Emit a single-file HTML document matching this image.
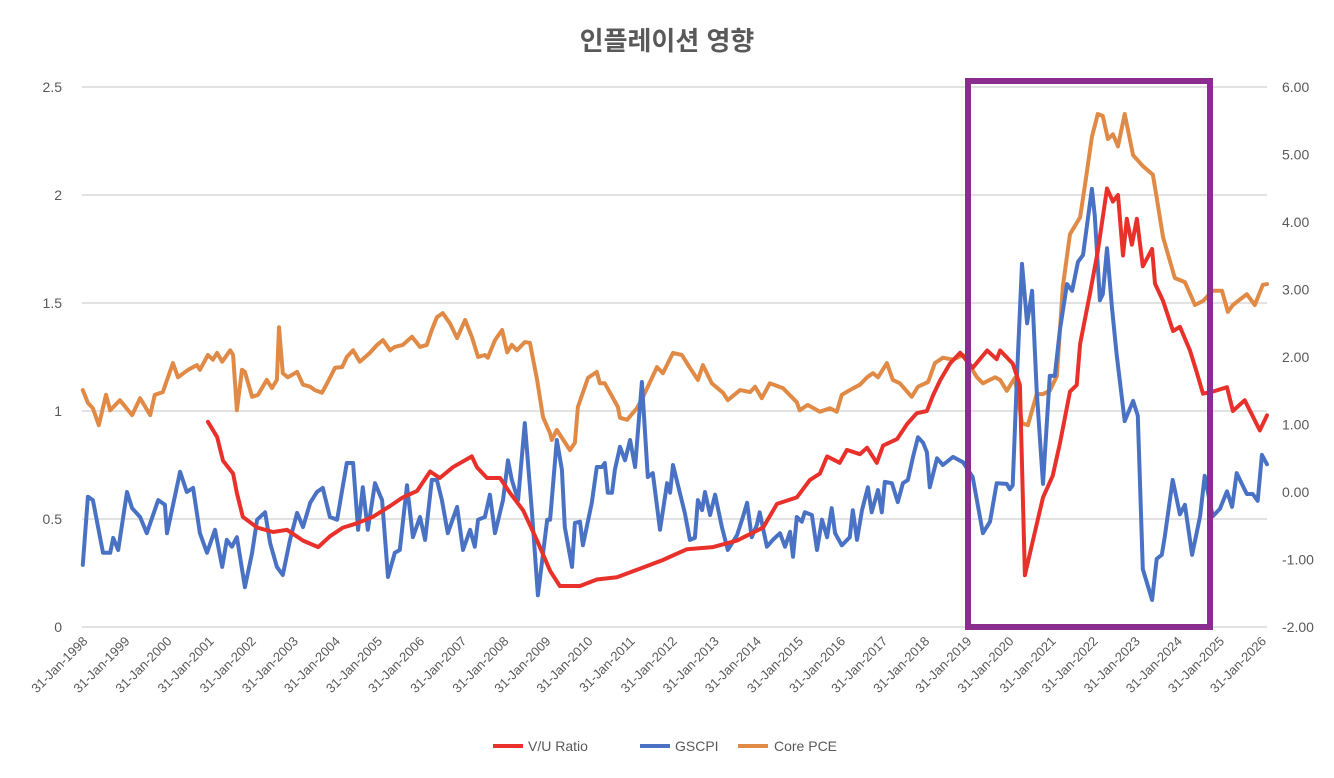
<!DOCTYPE html>
<html><head><meta charset="utf-8"><style>
html,body{margin:0;padding:0;background:#fff;}
svg{display:block;font-family:"Liberation Sans","Noto Sans CJK KR",sans-serif;}
</style></head><body>
<svg id="chart" width="1334" height="778" viewBox="0 0 1334 778" xmlns="http://www.w3.org/2000/svg">
<text x="667" y="50" text-anchor="middle" font-size="26" font-weight="bold" fill="#595959" font-family="'Liberation Sans','Noto Sans CJK KR',sans-serif">인플레이션 영향</text>
<g id="grid"></g>
<g id="yl"></g>
<g id="yr"></g>
<g id="xa"></g>
<g id="series"></g>
<rect x="968" y="81" width="242" height="546" fill="none" stroke="#8a2d8f" stroke-width="6"/>
<g>
<g><line x1="493" y1="746" x2="523" y2="746" stroke="#e8312a" stroke-width="4"/><text x="528" y="751" font-size="14" fill="#595959">V/U Ratio</text></g>
<g><line x1="640" y1="746" x2="670" y2="746" stroke="#4a72c4" stroke-width="4"/><text x="675" y="751" font-size="14" fill="#595959">GSCPI</text></g>
<g><line x1="738" y1="746" x2="768" y2="746" stroke="#e08a45" stroke-width="4"/><text x="774" y="751" font-size="14" fill="#595959">Core PCE</text></g>
</g>
</svg>
<script>
const leftTicks=[0,0.5,1,1.5,2,2.5];
const leftTickLabels=["0","0.5","1","1.5","2","2.5"];
const rightTicks=[-2,-1,0,1,2,3,4,5,6];
const xTickYears=[1998,1999,2000,2001,2002,2003,2004,2005,2006,2007,2008,2009,2010,2011,2012,2013,2014,2015,2016,2017,2018,2019,2020,2021,2022,2023,2024,2025,2026];

const vuDates=[2000.99,2001.21,2001.35,2001.59,2001.68,2001.82,2002.16,2002.54,2002.87,2003.25,2003.61,2003.89,2004.20,2004.53,2004.91,2005.32,2005.62,2005.96,2006.27,2006.50,2006.81,2007.26,2007.38,2007.62,2007.93,2008.17,2008.48,2008.81,2009.12,2009.35,2009.83,2010.23,2010.71,2011.25,2011.80,2012.37,2012.99,2013.56,2014.18,2014.51,2014.98,2015.29,2015.53,2015.70,2016.00,2016.17,2016.48,2016.65,2016.88,2017.03,2017.36,2017.60,2017.83,2018.07,2018.21,2018.38,2018.62,2018.86,2019.16,2019.50,2019.73,2019.81,2020.11,2020.28,2020.40,2020.59,2020.83,2021.06,2021.23,2021.47,2021.63,2021.71,2021.94,2022.13,2022.35,2022.49,2022.61,2022.73,2022.82,2022.94,2023.06,2023.20,2023.42,2023.49,2023.68,2023.92,2024.08,2024.32,2024.48,2024.63,2024.86,2025.20,2025.34,2025.62,2025.98,2026.15];
const vuValues=[0.95,0.88,0.77,0.71,0.62,0.51,0.46,0.44,0.45,0.40,0.37,0.42,0.46,0.48,0.51,0.56,0.60,0.63,0.72,0.69,0.74,0.79,0.74,0.69,0.69,0.62,0.54,0.40,0.26,0.19,0.19,0.22,0.23,0.27,0.31,0.36,0.37,0.40,0.46,0.57,0.60,0.68,0.71,0.79,0.76,0.82,0.80,0.83,0.76,0.84,0.87,0.94,0.99,1.00,1.07,1.14,1.22,1.27,1.20,1.28,1.24,1.28,1.22,1.12,0.24,0.40,0.60,0.70,0.85,1.09,1.12,1.31,1.54,1.74,2.03,1.97,2.00,1.72,1.89,1.77,1.89,1.67,1.75,1.59,1.51,1.37,1.39,1.28,1.18,1.08,1.09,1.11,1.00,1.05,0.91,0.98];

const gsDates=[1998.02,1998.14,1998.26,1998.50,1998.67,1998.74,1998.86,1999.07,1999.19,1999.38,1999.54,1999.81,1999.97,2000.02,2000.33,2000.49,2000.64,2000.80,2000.97,2001.16,2001.33,2001.44,2001.56,2001.68,2001.87,2002.04,2002.16,2002.35,2002.47,2002.63,2002.77,2002.94,2003.11,2003.25,2003.42,2003.58,2003.72,2003.89,2004.06,2004.29,2004.44,2004.56,2004.67,2004.79,2004.96,2005.13,2005.27,2005.43,2005.55,2005.72,2005.86,2006.03,2006.15,2006.31,2006.43,2006.55,2006.69,2006.91,2007.05,2007.22,2007.33,2007.41,2007.57,2007.69,2007.81,2008.00,2008.12,2008.21,2008.36,2008.52,2008.69,2008.83,2009.05,2009.12,2009.28,2009.40,2009.47,2009.64,2009.71,2009.83,2009.90,2010.11,2010.23,2010.35,2010.42,2010.49,2010.59,2010.66,2010.78,2010.90,2011.02,2011.14,2011.30,2011.44,2011.56,2011.73,2011.90,2011.97,2012.04,2012.32,2012.44,2012.56,2012.63,2012.73,2012.80,2012.92,2013.04,2013.20,2013.34,2013.56,2013.70,2013.80,2013.91,2014.03,2014.10,2014.27,2014.41,2014.58,2014.70,2014.82,2014.89,2014.98,2015.10,2015.17,2015.34,2015.46,2015.58,2015.70,2015.81,2015.89,2016.05,2016.24,2016.31,2016.41,2016.53,2016.67,2016.76,2016.91,2017.00,2017.07,2017.24,2017.38,2017.50,2017.62,2017.74,2017.86,2017.98,2018.07,2018.14,2018.31,2018.45,2018.69,2018.93,2019.16,2019.40,2019.57,2019.73,2019.97,2020.04,2020.11,2020.21,2020.33,2020.45,2020.57,2020.68,2020.83,2020.99,2021.11,2021.23,2021.40,2021.52,2021.66,2021.78,2021.99,2022.06,2022.18,2022.25,2022.35,2022.47,2022.58,2022.77,2022.97,2023.08,2023.20,2023.42,2023.53,2023.65,2023.72,2023.91,2024.08,2024.20,2024.37,2024.56,2024.67,2024.86,2025.03,2025.20,2025.32,2025.43,2025.67,2025.81,2025.93,2026.03,2026.15];
const gsValues=[-1.08,-0.07,-0.12,-0.90,-0.90,-0.68,-0.86,0.0,-0.24,-0.37,-0.61,-0.12,-0.19,-0.61,0.30,0.0,0.06,-0.61,-0.90,-0.56,-1.11,-0.71,-0.81,-0.67,-1.41,-0.90,-0.41,-0.30,-0.76,-1.11,-1.23,-0.71,-0.31,-0.52,-0.16,0.0,0.06,-0.37,-0.41,0.43,0.43,-0.56,0.07,-0.56,0.13,-0.12,-1.26,-0.90,-0.86,0.10,-0.67,-0.37,-0.71,0.18,0.18,-0.12,-0.61,-0.22,-0.86,-0.56,-0.81,-0.41,-0.37,-0.04,-0.61,-0.12,0.47,0.18,-0.12,1.02,-0.31,-1.53,-0.41,-0.41,0.77,0.33,-0.52,-1.11,-0.46,-0.44,-0.79,-0.16,0.37,0.37,0.43,-0.01,-0.01,0.33,0.67,0.47,0.77,0.37,1.63,0.22,0.28,-0.56,0.13,-0.01,0.40,-0.31,-0.71,-0.68,-0.12,-0.27,0.0,-0.34,-0.04,-0.52,-0.86,-0.64,-0.37,-0.16,-0.67,-0.49,-0.30,-0.81,-0.71,-0.61,-0.81,-0.59,-0.96,-0.37,-0.44,-0.30,-0.34,-0.86,-0.41,-0.67,-0.24,-0.61,-0.79,-0.67,-0.27,-0.71,-0.27,0.07,-0.30,0.03,-0.30,0.15,0.13,-0.15,0.13,0.18,0.52,0.81,0.73,0.59,0.07,0.50,0.40,0.52,0.44,0.22,-0.61,-0.44,0.13,0.12,0.04,0.10,1.72,3.38,2.50,2.98,1.50,0.12,1.72,1.72,2.40,3.08,2.98,3.41,3.51,4.49,4.09,2.84,2.93,3.61,2.71,2.03,1.05,1.35,1.13,-1.14,-1.60,-0.99,-0.93,-0.67,0.18,-0.33,-0.19,-0.93,-0.36,0.24,-0.36,-0.25,0.01,-0.22,0.28,-0.03,-0.03,-0.13,0.55,0.41];

const pceDates=[1998.02,1998.14,1998.26,1998.40,1998.57,1998.67,1998.90,1999.19,1999.38,1999.62,1999.73,1999.92,2000.16,2000.28,2000.52,2000.73,2000.80,2000.99,2001.11,2001.21,2001.33,2001.52,2001.59,2001.68,2001.80,2001.87,2002.04,2002.18,2002.39,2002.51,2002.63,2002.68,2002.77,2002.89,2003.11,2003.25,2003.42,2003.53,2003.70,2003.84,2004.01,2004.18,2004.29,2004.44,2004.60,2004.84,2005.01,2005.15,2005.32,2005.43,2005.62,2005.84,2006.03,2006.19,2006.31,2006.43,2006.57,2006.74,2006.91,2007.10,2007.26,2007.41,2007.57,2007.64,2007.81,2007.98,2008.10,2008.21,2008.33,2008.52,2008.64,2008.81,2008.95,2009.12,2009.16,2009.28,2009.59,2009.71,2009.78,2010.02,2010.23,2010.30,2010.42,2010.73,2010.78,2010.95,2011.18,2011.33,2011.66,2011.80,2012.04,2012.25,2012.44,2012.63,2012.75,2012.96,2013.23,2013.34,2013.63,2013.87,2013.99,2014.15,2014.34,2014.65,2014.98,2015.05,2015.24,2015.53,2015.77,2015.93,2016.05,2016.24,2016.48,2016.65,2016.79,2016.91,2017.12,2017.26,2017.43,2017.71,2017.86,2018.10,2018.26,2018.45,2018.69,2018.93,2019.26,2019.40,2019.69,2019.81,2019.97,2020.16,2020.33,2020.47,2020.68,2020.83,2020.99,2021.16,2021.30,2021.47,2021.71,2021.82,2021.99,2022.13,2022.25,2022.37,2022.49,2022.61,2022.77,2022.97,2023.20,2023.44,2023.53,2023.68,2023.96,2024.20,2024.44,2024.63,2024.86,2025.08,2025.22,2025.34,2025.67,2025.86,2026.05,2026.15];
const pceValues=[1.51,1.32,1.24,0.99,1.44,1.21,1.36,1.14,1.39,1.14,1.44,1.48,1.91,1.70,1.81,1.88,1.81,2.03,1.96,2.06,1.93,2.10,2.03,1.21,1.81,1.78,1.41,1.44,1.66,1.54,1.66,2.44,1.76,1.70,1.78,1.59,1.56,1.51,1.47,1.63,1.84,1.85,2.00,2.10,1.93,2.06,2.18,2.25,2.10,2.15,2.18,2.30,2.15,2.18,2.40,2.59,2.65,2.50,2.28,2.55,2.30,2.00,2.03,1.99,2.25,2.40,2.07,2.18,2.10,2.22,2.21,1.66,1.11,0.87,0.77,0.92,0.62,0.73,1.26,1.69,1.78,1.61,1.61,1.26,1.10,1.07,1.24,1.41,1.85,1.76,2.06,2.03,1.84,1.66,1.88,1.61,1.47,1.36,1.51,1.48,1.56,1.39,1.61,1.54,1.33,1.21,1.29,1.19,1.24,1.19,1.44,1.51,1.59,1.70,1.76,1.70,1.91,1.66,1.61,1.41,1.56,1.63,1.91,1.99,1.96,2.03,1.70,1.61,1.70,1.66,1.50,1.69,1.02,0.99,1.45,1.45,1.50,1.72,3.04,3.82,4.07,4.52,5.26,5.60,5.57,5.23,5.30,5.12,5.60,4.99,4.83,4.70,4.36,3.78,3.17,3.11,2.77,2.83,2.98,2.98,2.67,2.77,2.93,2.77,3.07,3.08];

const NS='http://www.w3.org/2000/svg';
const X0=82,X1=1267,D0=1998.0,D1=2026.15,YT=87,YB=627;
function xs(d){return X0+(d-D0)/(D1-D0)*(X1-X0);}
function yl(v){return YB-(v-0)/(2.5-0)*(YB-YT);}
function yr(v){return YB-(v+2)/8*(YB-YT);}
function mk(tag,attrs,parent){const e=document.createElementNS(NS,tag);for(const k in attrs)e.setAttribute(k,attrs[k]);parent.appendChild(e);return e;}
const grid=document.getElementById('grid'),gl=document.getElementById('yl'),gr=document.getElementById('yr'),gx=document.getElementById('xa'),gs=document.getElementById('series');
leftTicks.forEach((t,i)=>{
  const ln=mk('line',{x1:X0,x2:X1,y1:yl(t),y2:yl(t),stroke:'#d9d9d9','stroke-width':1.5},grid);
  
  
  const tx=mk('text',{x:62,y:yl(t)+5,'text-anchor':'end','font-size':14,fill:'#595959'},gl);
  tx.textContent=leftTickLabels[i];
  
  
});
rightTicks.forEach(t=>{
  const tx=mk('text',{x:1282,y:yr(t)+5,'text-anchor':'start','font-size':14,fill:'#595959'},gr);
  tx.textContent=t.toFixed(2);
  
  
});
xTickYears.forEach(yv=>{
  const x=xs(yv+0.08)+3;
  const tx=mk('text',{x:x,y:642,'text-anchor':'end','font-size':13,fill:'#595959',transform:'rotate(-45 '+x+' 642)'},gx);
  tx.textContent='31-Jan-'+yv;
  
  
});
function line(dates,vals,yf,color,name){
  const d=dates.map((t,i)=>(i?'L':'M')+xs(t).toFixed(1)+' '+yf(vals[i]).toFixed(1)).join('');
  const p=mk('path',{d:d,fill:'none',stroke:color,'stroke-width':4,'stroke-linejoin':'round','stroke-linecap':'round'},gs);
  
  
}
line(pceDates,pceValues,yr,'#e08a45','core-pce-line');
line(gsDates,gsValues,yr,'#4a72c4','gscpi-line');
line(vuDates,vuValues,yl,'#e8312a','vu-ratio-line');
</script>
</body></html>
